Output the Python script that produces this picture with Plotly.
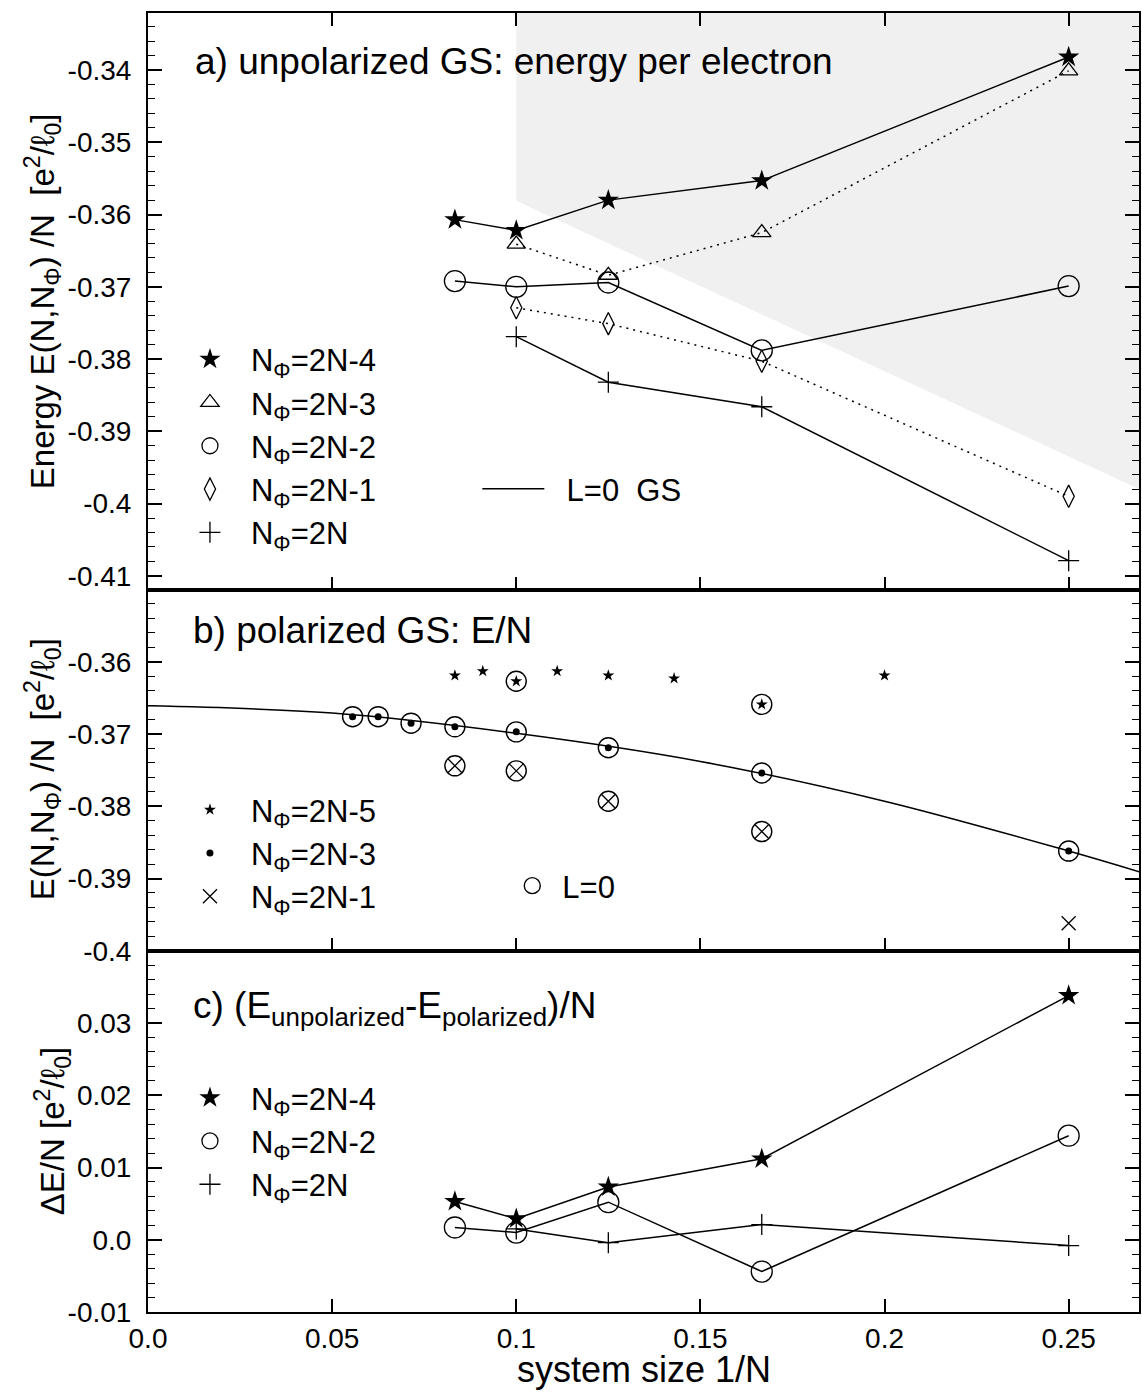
import plotly.graph_objects as go
from plotly.subplots import make_subplots

# ---------------------------------------------------------------- data
# (a) unpolarized ground states, energy per electron vs. system size N
N_unpol_m4 = [12, 10, 8, 6, 4]
E_unpol_m4 = [-0.3607, -0.3622, -0.3580, -0.3553, -0.3382]
N_unpol_m3 = [10, 8, 6, 4]
E_unpol_m3 = [-0.3641, -0.3684, -0.3625, -0.3401]
N_unpol_m2 = [12, 10, 8, 6, 4]
E_unpol_m2 = [-0.3692, -0.3700, -0.3694, -0.3788, -0.3699]
N_unpol_m1 = [10, 8, 6, 4]
E_unpol_m1 = [-0.3729, -0.3751, -0.3803, -0.3990]
N_unpol_0 = [10, 8, 6, 4]
E_unpol_0 = [-0.3769, -0.3832, -0.3866, -0.4079]

# grey wedge in panel (a)
shade_x = [0.1, 0.1, 0.27, 0.27]
shade_y = [-0.33, -0.3581, -0.3982, -0.33]

# (b) polarized ground states (L0 flags mark the L=0 states)
N_pol_m5 = [12, 11, 10, 9, 8, 7, 6, 5]
E_pol_m5 = [-0.3619, -0.3613, -0.3627, -0.3613, -0.3619, -0.3623, -0.3659, -0.3619]
L0_pol_m5 = [False, False, True, False, False, False, True, False]
N_pol_m3 = [18, 16, 14, 12, 10, 8, 6, 4]
E_pol_m3 = [-0.3676, -0.3676, -0.3685, -0.3690, -0.3697, -0.3719, -0.3754, -0.3862]
L0_pol_m3 = [True, True, True, True, True, True, True, True]
N_pol_m1 = [12, 10, 8, 6, 4]
E_pol_m1 = [-0.3744, -0.3751, -0.3793, -0.3835, -0.3962]
L0_pol_m1 = [True, True, True, True, False]

# extrapolation curve through the N_phi=2N-3 states
fit_x = [0.0, 0.05, 0.1, 0.15, 0.2, 0.25, 0.27]
fit_E = [-0.3661, -0.3671, -0.3699, -0.3738, -0.3793, -0.3862, -0.3892]

# (c) energy difference unpolarized - polarized
N_gap_m4 = [12, 10, 8, 6, 4]
dE_m4 = [0.0053, 0.0029, 0.0073, 0.0112, 0.0338]
N_gap_m2 = [12, 10, 8, 6, 4]
dE_m2 = [0.0017, 0.0010, 0.0052, -0.0044, 0.0144]
N_gap_0 = [10, 8, 6, 4]
dE_0 = [0.0015, -0.0004, 0.0021, -0.0008]

# axes
x_range = [0.0, 0.2691]
x_ticks = [0.0, 0.05, 0.1, 0.15, 0.2, 0.25]
x_ticktext = ["0.0", "0.05", "0.1", "0.15", "0.2", "0.25"]
ya_range = [-0.4119, -0.3321]
ya_ticks = [-0.34, -0.35, -0.36, -0.37, -0.38, -0.39, -0.40, -0.41]
ya_ticktext = ["-0.34", "-0.35", "-0.36", "-0.37", "-0.38", "-0.39", "-0.4", "-0.41"]
yb_range = [-0.40, -0.35]
yb_ticks = [-0.36, -0.37, -0.38, -0.39, -0.40]
yb_ticktext = ["-0.36", "-0.37", "-0.38", "-0.39", "-0.4"]
yc_range = [-0.01, 0.04]
yc_ticks = [0.03, 0.02, 0.01, 0.0, -0.01]
yc_ticktext = ["0.03", "0.02", "0.01", "0.0", "-0.01"]

# ---------------------------------------------------------------- layout helpers
W, H = 1142, 1393
ML, MR, MT, MB = 148, 1, 13, 81
FONT = "Liberation Sans, Arial, Helvetica, sans-serif"


def fx(px):
    return (px - ML) / (W - ML - MR)


def fy(py):
    return (H - MB - py) / (H - MT - MB)


def inv(ns):
    return [1.0 / n for n in ns]


def pick(xs, ys, flags):
    return ([x for x, f in zip(xs, flags) if f], [y for y, f in zip(ys, flags) if f])


SOLID = dict(color="black", width=1.5)
DOTTED = dict(color="black", width=1.5, dash="2px,5px")
PHI = "N<sub>Φ</sub>"

fig = make_subplots(rows=3, cols=1, shared_xaxes=True, vertical_spacing=0,
                    row_heights=[ya_range[1] - ya_range[0],
                                 yb_range[1] - yb_range[0],
                                 yc_range[1] - yc_range[0]])

# ---------------------------------------------------------------- panel (a)
fig.add_trace(go.Scatter(x=shade_x, y=shade_y, mode="lines", fill="toself",
                         fillcolor="#f0f0f0", line=dict(width=0),
                         showlegend=False, hoverinfo="skip"), row=1, col=1)

fig.add_trace(go.Scatter(x=inv(N_unpol_m4), y=E_unpol_m4, mode="lines", line=SOLID,
                         name="\u00a0\u00a0L=0\u00a0\u00a0GS", legend="legend2"), row=1, col=1)
fig.add_trace(go.Scatter(x=inv(N_unpol_m2), y=E_unpol_m2, mode="lines", line=SOLID,
                         showlegend=False), row=1, col=1)
fig.add_trace(go.Scatter(x=inv(N_unpol_0), y=E_unpol_0, mode="lines", line=SOLID,
                         showlegend=False), row=1, col=1)
fig.add_trace(go.Scatter(x=inv(N_unpol_m3), y=E_unpol_m3, mode="lines", line=DOTTED,
                         showlegend=False), row=1, col=1)
fig.add_trace(go.Scatter(x=inv(N_unpol_m1), y=E_unpol_m1, mode="lines", line=DOTTED,
                         showlegend=False), row=1, col=1)

unpol_markers = [
    (N_unpol_m4, E_unpol_m4, "=2N-4", dict(symbol="star", size=16, color="black")),
    (N_unpol_m3, E_unpol_m3, "=2N-3", dict(symbol="triangle-up-open", size=16, color="black",
                                           line=dict(width=1.3, color="black"))),
    (N_unpol_m2, E_unpol_m2, "=2N-2", dict(symbol="circle-open", size=21, color="black",
                                           line=dict(width=1.3, color="black"))),
    (N_unpol_m1, E_unpol_m1, "=2N-1", dict(symbol="diamond-tall-open", size=16, color="black",
                                           line=dict(width=1.3, color="black"))),
    (N_unpol_0, E_unpol_0, "=2N", dict(symbol="cross-thin-open", size=15, color="black",
                                       line=dict(width=1.3, color="black"))),
]
for ns, es, lab, mk in unpol_markers:
    fig.add_trace(go.Scatter(x=inv(ns), y=es, mode="markers", marker=mk,
                             name=PHI + lab, legend="legend"), row=1, col=1)

# ---------------------------------------------------------------- panel (b)
fig.add_trace(go.Scatter(x=fit_x, y=fit_E, mode="lines", line=dict(SOLID, shape="spline"),
                         showlegend=False), row=2, col=1)
pol_markers = [
    (N_pol_m5, E_pol_m5, "=2N-5", dict(symbol="star", size=9, color="black")),
    (N_pol_m3, E_pol_m3, "=2N-3", dict(symbol="circle", size=7, color="black")),
    (N_pol_m1, E_pol_m1, "=2N-1", dict(symbol="x-thin-open", size=14, color="black",
                                       line=dict(width=1.3, color="black"))),
]
for ns, es, lab, mk in pol_markers:
    fig.add_trace(go.Scatter(x=inv(ns), y=es, mode="markers", marker=mk,
                             name=PHI + lab, legend="legend3"), row=2, col=1)

ring_x, ring_y = [], []
for ns, es, flags in [(N_pol_m5, E_pol_m5, L0_pol_m5),
                      (N_pol_m3, E_pol_m3, L0_pol_m3),
                      (N_pol_m1, E_pol_m1, L0_pol_m1)]:
    rx, ry = pick(inv(ns), es, flags)
    ring_x += rx
    ring_y += ry
fig.add_trace(go.Scatter(x=ring_x, y=ring_y, mode="markers", name="L=0", legend="legend4",
                         marker=dict(symbol="circle-open", size=20, color="black",
                                     line=dict(width=1.4, color="black"))), row=2, col=1)

# ---------------------------------------------------------------- panel (c)
fig.add_hline(y=0, line=dict(color="black", width=1.5, dash="2px,5px"), row=3, col=1)
gap_series = [
    (N_gap_m4, dE_m4, "=2N-4", dict(symbol="star", size=16, color="black")),
    (N_gap_m2, dE_m2, "=2N-2", dict(symbol="circle-open", size=21, color="black",
                                    line=dict(width=1.3, color="black"))),
    (N_gap_0, dE_0, "=2N", dict(symbol="cross-thin-open", size=15, color="black",
                                line=dict(width=1.3, color="black"))),
]
for ns, es, lab, mk in gap_series:
    fig.add_trace(go.Scatter(x=inv(ns), y=es, mode="lines", line=SOLID,
                             showlegend=False), row=3, col=1)
for ns, es, lab, mk in gap_series:
    fig.add_trace(go.Scatter(x=inv(ns), y=es, mode="markers", marker=mk,
                             name=PHI + lab, legend="legend5"), row=3, col=1)

# ---------------------------------------------------------------- axes
tickfont = dict(family=FONT, size=28, color="black")
for r in (1, 2, 3):
    fig.update_xaxes(row=r, col=1, range=x_range, tickvals=x_ticks, ticktext=x_ticktext,
                     ticks="inside", ticklen=13, tickwidth=1.5, tickcolor="black",
                     showline=True, linewidth=2, linecolor="black",
                     mirror="ticks" if r == 1 else True,
                     showgrid=False, zeroline=False, tickfont=tickfont,
                     showticklabels=(r == 3), ticklabelstandoff=0)

for r, rng, tv, tt in [(1, ya_range, ya_ticks, ya_ticktext),
                       (2, yb_range, yb_ticks, yb_ticktext),
                       (3, yc_range, yc_ticks, yc_ticktext)]:
    fig.update_yaxes(row=r, col=1, range=rng, tickvals=tv, ticktext=tt,
                     ticks="inside", ticklen=14, tickwidth=1.5, tickcolor="black",
                     minor=dict(tickmode="linear", tick0=0, dtick=0.002, ticks="inside",
                                ticklen=7, tickwidth=1.2, tickcolor="black", showgrid=False),
                     showline=True, linewidth=2, linecolor="black", mirror="ticks",
                     showgrid=False, zeroline=False, tickfont=tickfont,
                     ticklabelstandoff=9)

# ---------------------------------------------------------------- text
ann = []
title_font = dict(family=FONT, size=37, color="black")
for txt, px, py in [("a) unpolarized GS: energy per electron", 193, 62),
                    ("b) polarized GS: E/N", 191, 630),
                    ("c) (E<sub>unpolarized</sub>-E<sub>polarized</sub>)/N", 191, 1008)]:
    ann.append(dict(text=txt, x=fx(px), y=fy(py), xref="paper", yref="paper",
                    xanchor="left", yanchor="middle", showarrow=False, font=title_font))

ylab_font = dict(family=FONT, size=33, color="black")
for txt, px, py in [("Energy E(N,N<sub>Φ</sub>)\u00a0/N\u00a0\u00a0[e<sup>2</sup>/ℓ<sub>0</sub>]", 42, 301),
                    ("E(N,N<sub>Φ</sub>)\u00a0/N\u00a0\u00a0[e<sup>2</sup>/ℓ<sub>0</sub>]", 42, 769),
                    ("ΔE/N [e<sup>2</sup>/ℓ<sub>0</sub>]", 52, 1131)]:
    ann.append(dict(text=txt, x=fx(px), y=fy(py), xref="paper", yref="paper",
                    xanchor="center", yanchor="middle", textangle=-90,
                    showarrow=False, font=ylab_font))

ann.append(dict(text="system size 1/N", x=0.5, y=fy(1370), xref="paper", yref="paper",
                xanchor="center", yanchor="middle", showarrow=False,
                font=dict(family=FONT, size=36, color="black")))


def legend_box(px, py, itemwidth, size=31):
    return dict(x=fx(px), y=fy(py), xref="paper", yref="paper",
                xanchor="left", yanchor="middle", bgcolor="rgba(0,0,0,0)",
                borderwidth=0, itemwidth=itemwidth, tracegroupgap=0,
                font=dict(family=FONT, size=size, color="black"))


fig.update_layout(
    width=W, height=H,
    margin=dict(l=ML, r=MR, t=MT, b=MB),
    paper_bgcolor="white", plot_bgcolor="white",
    font=dict(family=FONT, color="black"),
    annotations=ann,
    legend=legend_box(169, 446, 72),
    legend2=legend_box(478, 489, 62),
    legend3=legend_box(169, 853, 72),
    legend4=legend_box(503, 886, 50),
    legend5=legend_box(169, 1141, 72),
    showlegend=True,
)

fig.write_html("out.html")
